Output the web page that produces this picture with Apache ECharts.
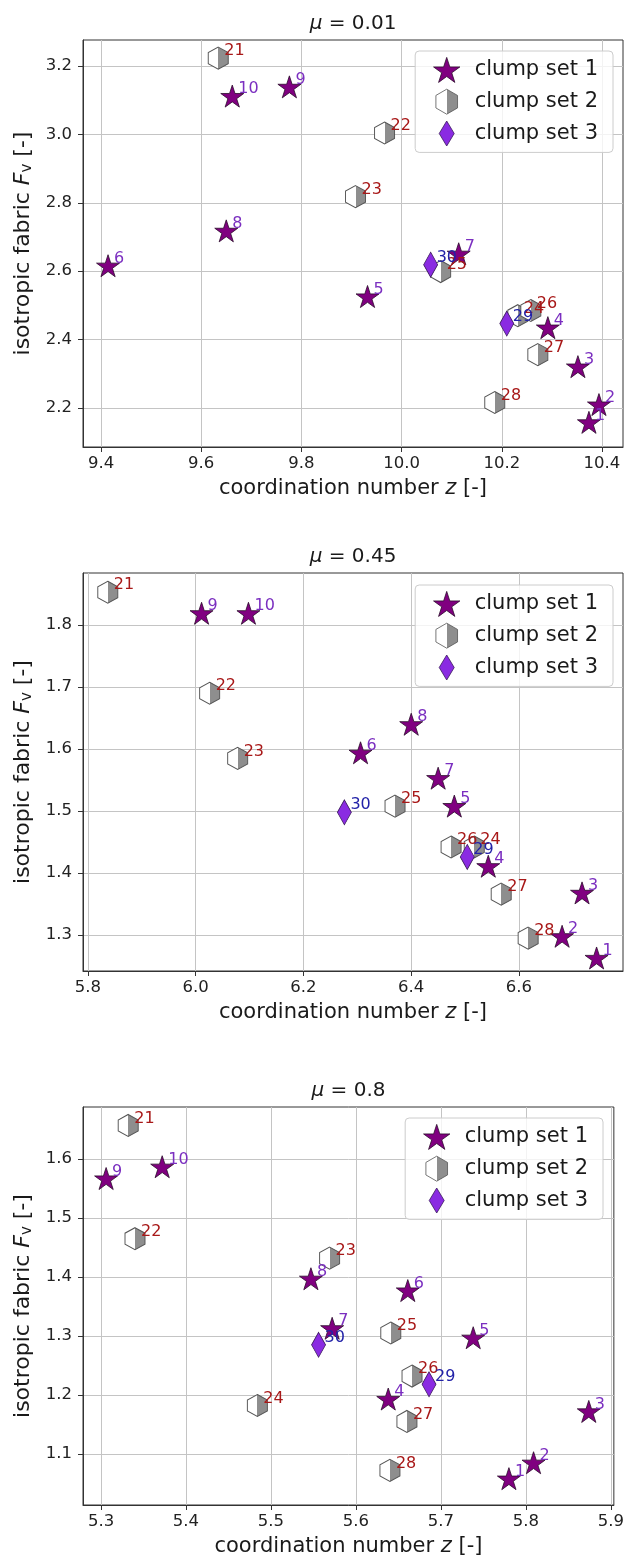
<!DOCTYPE html>
<html>
<head>
<meta charset="utf-8">
<script src="https://cdn.jsdelivr.net/npm/echarts@6/dist/echarts.min.js"></script>
<style>
html,body{margin:0;padding:0;background:#fff}
#main{width:627px;height:1558px}
</style>
</head>
<body>
<div id="main"></div>
<script>
// labels of the clumps
var set1Labels = ['1','2','3','4','5','6','7','8','9','10'];
var set2Labels = ['21','22','23','24','25','26','27','28'];
var set3Labels = ['29','30'];

// mu = 0.01
var mu001Set1Z = [10.374, 10.394, 10.352, 10.292, 9.932, 9.414, 10.114, 9.650, 9.776, 9.662];
var mu001Set1F = [2.158, 2.210, 2.321, 2.435, 2.526, 2.616, 2.651, 2.718, 3.139, 3.112];
var mu001Set2Z = [9.634, 9.966, 9.908, 10.232, 10.078, 10.258, 10.272, 10.186];
var mu001Set2F = [3.223, 3.004, 2.818, 2.470, 2.599, 2.485, 2.356, 2.216];
var mu001Set3Z = [10.210, 10.058];
var mu001Set3F = [2.447, 2.619];
var mu001ZTicks = [9.4, 9.6, 9.8, 10.0, 10.2, 10.4];
var mu001FTicks = [2.2, 2.4, 2.6, 2.8, 3.0, 3.2];

// mu = 0.45
var mu045Set1Z = [6.744, 6.680, 6.717, 6.543, 6.480, 6.306, 6.450, 6.400, 6.011, 6.098];
var mu045Set1F = [1.263, 1.298, 1.368, 1.411, 1.508, 1.594, 1.553, 1.640, 1.819, 1.819];
var mu045Set2Z = [5.837, 6.026, 6.078, 6.517, 6.370, 6.474, 6.567, 6.617];
var mu045Set2F = [1.853, 1.690, 1.585, 1.442, 1.508, 1.442, 1.366, 1.295];
var mu045Set3Z = [6.504, 6.276];
var mu045Set3F = [1.426, 1.498];
var mu045ZTicks = [5.8, 6.0, 6.2, 6.4, 6.6];
var mu045FTicks = [1.3, 1.4, 1.5, 1.6, 1.7, 1.8];

// mu = 0.8
var mu08Set1Z = [5.780, 5.809, 5.874, 5.638, 5.738, 5.661, 5.572, 5.547, 5.306, 5.372];
var mu08Set1F = [1.058, 1.085, 1.172, 1.193, 1.297, 1.377, 1.313, 1.397, 1.567, 1.587];
var mu08Set2Z = [5.332, 5.340, 5.569, 5.484, 5.641, 5.666, 5.660, 5.640];
var mu08Set2F = [1.657, 1.465, 1.432, 1.182, 1.305, 1.232, 1.155, 1.072];
var mu08Set3Z = [5.686, 5.556];
var mu08Set3F = [1.218, 1.285];
var mu08ZTicks = [5.3, 5.4, 5.5, 5.6, 5.7, 5.8, 5.9];
var mu08FTicks = [1.1, 1.2, 1.3, 1.4, 1.5, 1.6];

var setNames = ['clump set 1', 'clump set 2', 'clump set 3'];

var FONT = 'DejaVu Sans';
var starPath = 'path://M0,-50L11.23,-15.45L47.55,-15.45L18.17,5.9L29.39,40.45L0,19.1L-29.39,40.45L-18.17,5.9L-47.55,-15.45L-11.23,-15.45Z';
var hexPath = 'path://M0,-50L43.3,-25L43.3,25L0,50L-43.3,25L-43.3,-25Z';
var diaPath = 'path://M0,-50L30,0L0,50L-30,0Z';

var hexFill = new echarts.graphic.LinearGradient(0, 0, 1, 0, [
	{offset: 0, color: '#ffffff'},
	{offset: 0.5, color: '#ffffff'},
	{offset: 0.5, color: '#8e8e8e'},
	{offset: 1, color: '#8e8e8e'}
]);

var panels = [
	{mu: '0.01', sets: [[mu001Set1Z, mu001Set1F], [mu001Set2Z, mu001Set2F], [mu001Set3Z, mu001Set3F]], xt: mu001ZTicks, yt: mu001FTicks,
		grid: {left: 83, top: 40, width: 540, height: 407}, x: [9.364, 10.442], y: [2.086, 3.276], xi: 0.2, yi: 0.2, legend: {right: 14, top: 51}},
	{mu: '0.45', sets: [[mu045Set1Z, mu045Set1F], [mu045Set2Z, mu045Set2F], [mu045Set3Z, mu045Set3F]], xt: mu045ZTicks, yt: mu045FTicks,
		grid: {left: 83, top: 573, width: 540, height: 398}, x: [5.791, 6.793], y: [1.242, 1.884], xi: 0.2, yi: 0.1, legend: {right: 14, top: 585}},
	{mu: '0.8', sets: [[mu08Set1Z, mu08Set1F], [mu08Set2Z, mu08Set2F], [mu08Set3Z, mu08Set3F]], xt: mu08ZTicks, yt: mu08FTicks,
		grid: {left: 83, top: 1107, width: 531, height: 405}, x: [5.2788, 5.9035], y: [1.0133, 1.6883], xi: 0.1, yi: 0.1, legend: {right: 24, top: 1118}}
];

var styles = [
	{symbol: starPath, size: [23, 22], item: {color: '#800080', borderColor: '#2b0b2b', borderWidth: 0.8, opacity: 1}, labelColor: '#7b2fc0', labels: set1Labels},
	{symbol: hexPath, size: [20, 22], item: {color: hexFill, borderColor: '#555555', borderWidth: 1, opacity: 1}, labelColor: '#a81818', labels: set2Labels},
	{symbol: diaPath, size: [14, 25], item: {color: '#8a2be2', borderColor: '#3a1a5a', borderWidth: 0.8, opacity: 1}, labelColor: '#2222a8', labels: set3Labels}
];

function points(z, f, labels){
	return z.map(function(v, i){
		return {value: [v, f[i]], name: labels[i]};
	});
}

function tickFmt(v){
	return (+v).toFixed(1);
}

var grids = [], xAxes = [], yAxes = [], series = [], legends = [], graphics = [];

panels.forEach(function(p, k){
	grids.push(Object.assign({show: true, borderColor: '#333', borderWidth: 1, backgroundColor: 'transparent'}, p.grid));
	var axisCommon = {
		gridIndex: k, type: 'value',
		axisLine: {show: true, onZero: false, lineStyle: {color: '#333'}},
		splitLine: {show: true, lineStyle: {color: '#c4c4c4', width: 1}},
		nameLocation: 'middle'
	};
	xAxes.push(Object.assign({}, axisCommon, {
		min: p.x[0], max: p.x[1], minInterval: p.xi, maxInterval: p.xi,
		name: 'coordination number {i|z} [-]', nameGap: 31,
		nameTextStyle: {fontSize: 21, fontFamily: FONT, color: '#1a1a1a', rich: {i: {fontStyle: 'italic', fontSize: 21, fontFamily: FONT, color: '#1a1a1a'}}},
		axisTick: {show: true, length: 5, customValues: p.xt, lineStyle: {color: '#333'}},
		axisLabel: {fontSize: 16.5, margin: 8, color: '#222', fontFamily: FONT, customValues: p.xt, formatter: tickFmt}
	}));
	yAxes.push(Object.assign({}, axisCommon, {
		min: p.y[0], max: p.y[1], minInterval: p.yi, maxInterval: p.yi,
		name: 'isotropic fabric {i|F}{s|v} [-]', nameGap: 44,
		nameTextStyle: {fontSize: 22, fontFamily: FONT, color: '#1a1a1a', rich: {
			i: {fontStyle: 'italic', fontSize: 22, fontFamily: FONT, color: '#1a1a1a'},
			s: {fontSize: 15, fontFamily: FONT, color: '#1a1a1a', padding: [9, 0, 0, 0]}
		}},
		axisTick: {show: true, length: 5, customValues: p.yt, lineStyle: {color: '#333'}},
		axisLabel: {fontSize: 16.5, margin: 11, color: '#222', fontFamily: FONT, customValues: p.yt, formatter: tickFmt}
	}));
	p.sets.forEach(function(s, j){
		var st = styles[j];
		series.push({
			type: 'scatter', name: setNames[j], xAxisIndex: k, yAxisIndex: k,
			symbol: st.symbol, symbolSize: st.size, itemStyle: st.item,
			emphasis: {disabled: true},
			label: {show: true, formatter: '{b}', position: 'inside', align: 'left', verticalAlign: 'bottom', offset: [6, 1],
				color: st.labelColor, fontSize: 16, fontFamily: FONT},
			data: points(s[0], s[1], st.labels)
		});
	});
	legends.push({
		orient: 'vertical', right: p.legend.right, top: p.legend.top,
		padding: [6, 15, 6, 18], itemWidth: 46, itemHeight: 25, itemGap: 6,
		backgroundColor: 'rgba(255,255,255,0.8)', borderColor: '#cccccc', borderWidth: 1, borderRadius: 4,
		itemStyle: {borderWidth: 0.8},
		textStyle: {fontSize: 21, fontFamily: FONT, color: '#1a1a1a'},
		data: setNames
	});
	graphics.push({
		type: 'text', x: p.grid.left + p.grid.width / 2, y: p.grid.top - 16,
		style: {text: '{i|μ} = ' + p.mu, fontSize: 20, fontFamily: FONT, fill: '#1a1a1a', align: 'center', verticalAlign: 'middle',
			rich: {i: {fontStyle: 'italic', fontSize: 20, fontFamily: FONT, fill: '#1a1a1a'}}}
	});
});

var chart = echarts.init(document.getElementById('main'), null, {renderer: 'canvas'});
chart.setOption({
	animation: false,
	backgroundColor: '#ffffff',
	grid: grids,
	xAxis: xAxes,
	yAxis: yAxes,
	legend: legends,
	graphic: graphics,
	series: series
});
</script>
</body>
</html>
